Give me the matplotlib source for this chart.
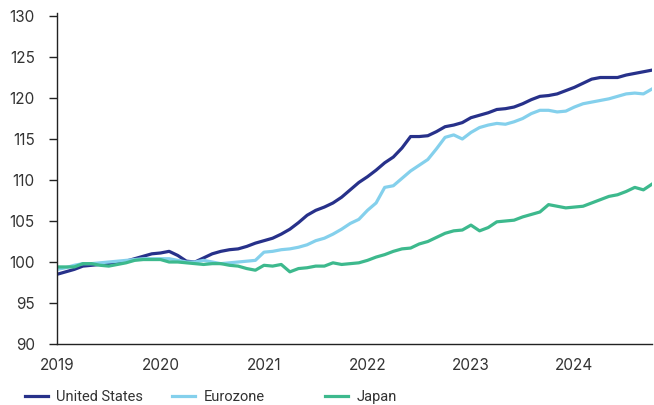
# Index levels, monthly, Jan 2019 - Oct 2024
import numpy as np
import matplotlib
matplotlib.use("Agg")
import matplotlib.pyplot as plt
from matplotlib.lines import Line2D

# Data
us = [98.5, 98.8, 99.1, 99.5, 99.6, 99.7, 99.7, 99.9, 100.1, 100.4,
      100.7, 101.0, 101.1, 101.3, 100.8, 100.1, 100.0, 100.5, 101.0, 101.3,
      101.5, 101.6, 101.9, 102.3, 102.6, 102.9, 103.4, 104.0, 104.8, 105.7,
      106.3, 106.7, 107.2, 107.9, 108.8, 109.7, 110.4, 111.2, 112.1, 112.8,
      113.9, 115.3, 115.3, 115.4, 115.9, 116.5, 116.7, 117.0, 117.6, 117.9,
      118.2, 118.6, 118.7, 118.9, 119.3, 119.8, 120.2, 120.3, 120.5, 120.9,
      121.3, 121.8, 122.3, 122.5, 122.5, 122.5, 122.8, 123.0, 123.2, 123.4]
eurozone = [99.1, 99.3, 99.6, 99.8, 99.8, 99.9, 100.0, 100.1, 100.2, 100.3,
            100.4, 100.4, 100.4, 100.4, 100.2, 100.0, 100.0, 100.2, 100.0, 99.8,
            99.9, 100.0, 100.1, 100.2, 101.2, 101.3, 101.5, 101.6, 101.8, 102.1,
            102.6, 102.9, 103.4, 104.0, 104.7, 105.2, 106.3, 107.2, 109.1, 109.3,
            110.2, 111.1, 111.8, 112.5, 113.8, 115.2, 115.5, 115.0, 115.8, 116.4,
            116.7, 116.9, 116.8, 117.1, 117.5, 118.1, 118.5, 118.5, 118.3, 118.4,
            118.9, 119.3, 119.5, 119.7, 119.9, 120.2, 120.5, 120.6, 120.5, 121.1]
japan = [99.4, 99.4, 99.4, 99.8, 99.8, 99.6, 99.5, 99.7, 99.9, 100.2,
         100.3, 100.3, 100.3, 100.0, 100.0, 99.9, 99.8, 99.7, 99.8, 99.8,
         99.6, 99.5, 99.2, 99.0, 99.6, 99.5, 99.7, 98.8, 99.2, 99.3,
         99.5, 99.5, 99.9, 99.7, 99.8, 99.9, 100.2, 100.6, 100.9, 101.3,
         101.6, 101.7, 102.2, 102.5, 103.0, 103.5, 103.8, 103.9, 104.5, 103.8,
         104.2, 104.9, 105.0, 105.1, 105.5, 105.8, 106.1, 107.0, 106.8, 106.6,
         106.7, 106.8, 107.2, 107.6, 108.0, 108.2, 108.6, 109.1, 108.8, 109.5]
labels = ["United States", "Eurozone", "Japan"]
colors = ["#27318a", "#84d0ec", "#3db98d"]
years = [2019, 2020, 2021, 2022, 2023, 2024]
yticks = [90, 95, 100, 105, 110, 115, 120, 125, 130]

t = 2019 + np.arange(len(us)) / 12

# Figure
fig = plt.figure(figsize=(6.54, 4.05), dpi=100)
ax = fig.add_axes([0.0872, 0.1506, 0.9098, 0.818])

for series, c in zip([us, eurozone, japan], colors):
    ax.plot(t, series, color=c, lw=2.3, solid_joinstyle="round")

ax.set_xlim(t[0], t[-1])
ax.set_ylim(90, 130.4)
ax.set_yticks(yticks)
ax.set_xticks(years)
ax.set_xticklabels([str(y) for y in years])

for s in ["top", "right"]:
    ax.spines[s].set_visible(False)
ax.spines["left"].set_linewidth(1.0)
ax.spines["bottom"].set_linewidth(1.0)
ax.spines["left"].set_color("#222222")
ax.spines["bottom"].set_color("#222222")

ax.tick_params(axis="y", length=6, width=1, color="#222222", pad=10,
               labelsize=11, labelcolor="#333333")
ax.tick_params(axis="x", length=0, pad=10, labelsize=11, labelcolor="#333333")
for lab in ax.get_xticklabels() + ax.get_yticklabels():
    lab.set_fontfamily("Inter")

# Legend, one entry at a time so the columns sit where they do in the source
leg_x = [25, 172, 325]
for name, c, x in zip(labels, colors, leg_x):
    h = Line2D([], [], color=c, lw=2.3)
    fig.legend(handles=[h], labels=[name], loc="center left",
               bbox_to_anchor=(x / 654, 1 - 397 / 405), frameon=False,
               handlelength=1.55, handletextpad=0.6, borderpad=0,
               borderaxespad=0,
               prop={"family": "Roboto", "size": 10.5})
for leg in fig.legends:
    for txt in leg.get_texts():
        txt.set_color("#333333")

fig.savefig("out.png", dpi=100)
